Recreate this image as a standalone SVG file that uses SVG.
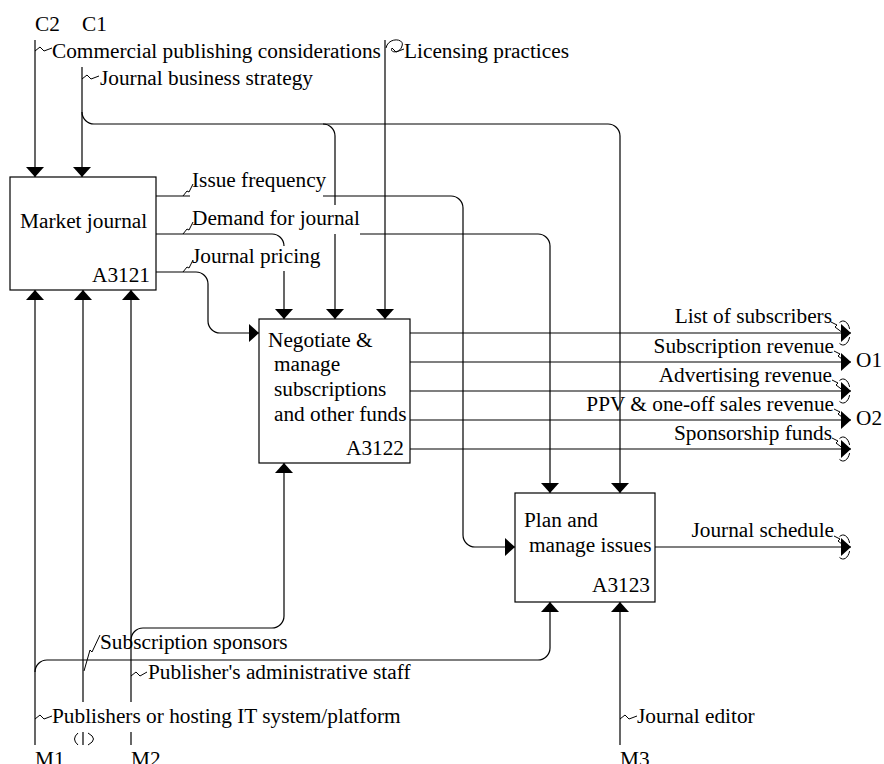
<svg xmlns="http://www.w3.org/2000/svg" width="884" height="764" viewBox="0 0 884 764" font-family="'Liberation Serif', 'Times New Roman', serif">
<style>
  text { font-family: "Liberation Serif", "Times New Roman", serif; font-size: 21.3px; fill: #000; }
  .end { text-anchor: end; }
  .box { fill: #fff; stroke: #000; stroke-width: 1.2; }
  .ln { fill: none; stroke: #000; stroke-width: 1.2; }
  .arr { fill: none; stroke: #000; stroke-width: 1.2; marker-end: url(#ah); }
  .sq { fill: none; stroke: #000; stroke-width: 1; }
</style>
<defs>
  <marker id="ah" viewBox="0 0 10 18" refX="10" refY="9" markerWidth="10" markerHeight="18" markerUnits="userSpaceOnUse" orient="auto">
    <path d="M0,0 L10,9 L0,18 Z" fill="#000"/>
  </marker>
</defs>
<rect width="884" height="764" fill="#fff"/>

<g id="connectors">
  <!-- controls -->
  <path class="arr" d="M35,40 V177"/>
  <path class="arr" d="M82,67 V177"/>
  <path class="arr" d="M82,112 A12,12 0 0 0 94,124 H608 A12,12 0 0 1 620,136 V493"/>
  <path class="ln" d="M323,124 A12,12 0 0 1 335,136 V205"/>
  <path class="arr" d="M335,234 V319"/>
  <path class="arr" d="M385,40 V319"/>
  <!-- A3121 outputs -->
  <path class="ln" d="M156,196 H190"/>
  <path class="arr" d="M323,196 H451 A12,12 0 0 1 463,208 V535 A12,12 0 0 0 475,547 H515"/>
  <path class="ln" d="M156,234 H272 A12,12 0 0 1 284,246"/>
  <path class="arr" d="M284,271 V319"/>
  <path class="arr" d="M360,234 H538 A12,12 0 0 1 550,246 V493"/>
  <path class="arr" d="M156,272 H196 A12,12 0 0 1 208,284 V321 A12,12 0 0 0 220,333 H259"/>
  <!-- A3122 outputs -->
  <path class="arr" d="M410,333 H851"/>
  <path class="arr" d="M410,362 H851"/>
  <path class="arr" d="M410,391 H851"/>
  <path class="arr" d="M410,420 H851"/>
  <path class="arr" d="M410,449 H851"/>
  <!-- A3123 output -->
  <path class="arr" d="M655,547 H851"/>
  <!-- mechanisms -->
  <path class="arr" d="M35,745 V290"/>
  <path class="arr" d="M35,672 A12,12 0 0 1 47,660 H538 A12,12 0 0 0 550,648 V602"/>
  <path class="arr" d="M83,702 V290"/>
  <path class="ln" d="M83,732 V745"/>
  <path class="arr" d="M131,702 V290"/>
  <path class="ln" d="M131,732 V745"/>
  <path class="arr" d="M131,640 A12,12 0 0 1 143,628 H272 A12,12 0 0 0 284,616 V463"/>
  <path class="arr" d="M620,745 V602"/>

  <!-- tunnels -->
  <path class="sq" d="M78,733 Q71,739 78,745 M88,733 Q99,739 88,745"/>
  <path class="sq" d="M839.5,322.6 A7,12 0 0 1 849.6,328.9 M849.6,337.1 A7,12 0 0 1 839.5,343.4"/>
  <path class="sq" d="M839.5,380.6 A7,12 0 0 1 849.6,386.9 M849.6,395.1 A7,12 0 0 1 839.5,401.4"/>
  <path class="sq" d="M839.5,438.6 A7,12 0 0 1 849.6,444.9 M849.6,453.1 A7,12 0 0 1 839.5,459.4"/>
  <path class="sq" d="M839.5,536.6 A7,12 0 0 1 849.6,542.9 M849.6,551.1 A7,12 0 0 1 839.5,557.4"/>

  <!-- squiggles -->
  <path class="sq" d="M35,51 L40,47 L44,51 L52,48"/>
  <path class="sq" d="M82,79 L87,75 L91,79 L99,76"/>
  <path class="sq" d="M386,48 C388,37 405,38 402,46 C400,54 389,53 392,48 L396,52 L404,49"/>
  <path class="sq" d="M183,196 L187,191 L189,192 L193,184"/>
  <path class="sq" d="M183,234 L187,229 L189,230 L193,222"/>
  <path class="sq" d="M183,272 L187,267 L189,268 L193,260"/>
  <path class="sq" d="M831,322 L837,325 L835,327 L843,333"/>
  <path class="sq" d="M834,351 L840,354 L838,356 L846,362"/>
  <path class="sq" d="M832,380 L838,383 L836,385 L844,391"/>
  <path class="sq" d="M834,409 L840,412 L838,414 L846,420"/>
  <path class="sq" d="M832,438 L838,441 L836,443 L844,449"/>
  <path class="sq" d="M834,536 L840,539 L838,541 L846,547"/>
  <path class="sq" d="M100,635 L92,652 L90,650 L84,671"/>
  <path class="sq" d="M131,676 L136,672 L140,676 L147,672"/>
  <path class="sq" d="M35,719 L40,715 L44,719 L52,716"/>
  <path class="sq" d="M620,719 L625,715 L629,719 L637,716"/>
</g>

<g id="labels">
  <text x="35" y="31">C2</text>
  <text x="82" y="31">C1</text>
  <text x="52" y="58">Commercial publishing considerations</text>
  <text x="404" y="58">Licensing practices</text>
  <text x="100" y="85">Journal business strategy</text>
  <text x="192" y="187">Issue frequency</text>
  <text x="192" y="225">Demand for journal</text>
  <text x="192" y="263">Journal pricing</text>
  <text class="end" x="832" y="323">List of subscribers</text>
  <text class="end" x="834" y="353">Subscription revenue</text>
  <text class="end" x="832" y="382">Advertising revenue</text>
  <text class="end" x="834" y="411">PPV &amp; one-off sales revenue</text>
  <text class="end" x="832" y="440">Sponsorship funds</text>
  <text x="856" y="367">O1</text>
  <text x="856" y="425">O2</text>
  <text class="end" x="834" y="537">Journal schedule</text>
  <text x="100" y="649">Subscription sponsors</text>
  <text x="148" y="679">Publisher's administrative staff</text>
  <text x="52" y="723">Publishers or hosting IT system/platform</text>
  <text x="637" y="723">Journal editor</text>
  <text x="35" y="766">M1</text>
  <text x="131" y="766">M2</text>
  <text x="620" y="766">M3</text>
</g>

<g id="A3121">
  <rect class="box" x="10" y="177" width="146" height="113"/>
  <text x="20" y="228">Market journal</text>
  <text class="end" x="150" y="282">A3121</text>
</g>

<g id="A3122">
  <rect class="box" x="259" y="319" width="151" height="144"/>
  <text x="268" y="347">Negotiate &amp;</text>
  <text x="274" y="371">manage</text>
  <text x="274" y="396">subscriptions</text>
  <text x="274" y="421">and other funds</text>
  <text class="end" x="404" y="455">A3122</text>
</g>

<g id="A3123">
  <rect class="box" x="515" y="493" width="140" height="109"/>
  <text x="524" y="527">Plan and</text>
  <text x="529" y="552">manage issues</text>
  <text class="end" x="650" y="592">A3123</text>
</g>
</svg>
